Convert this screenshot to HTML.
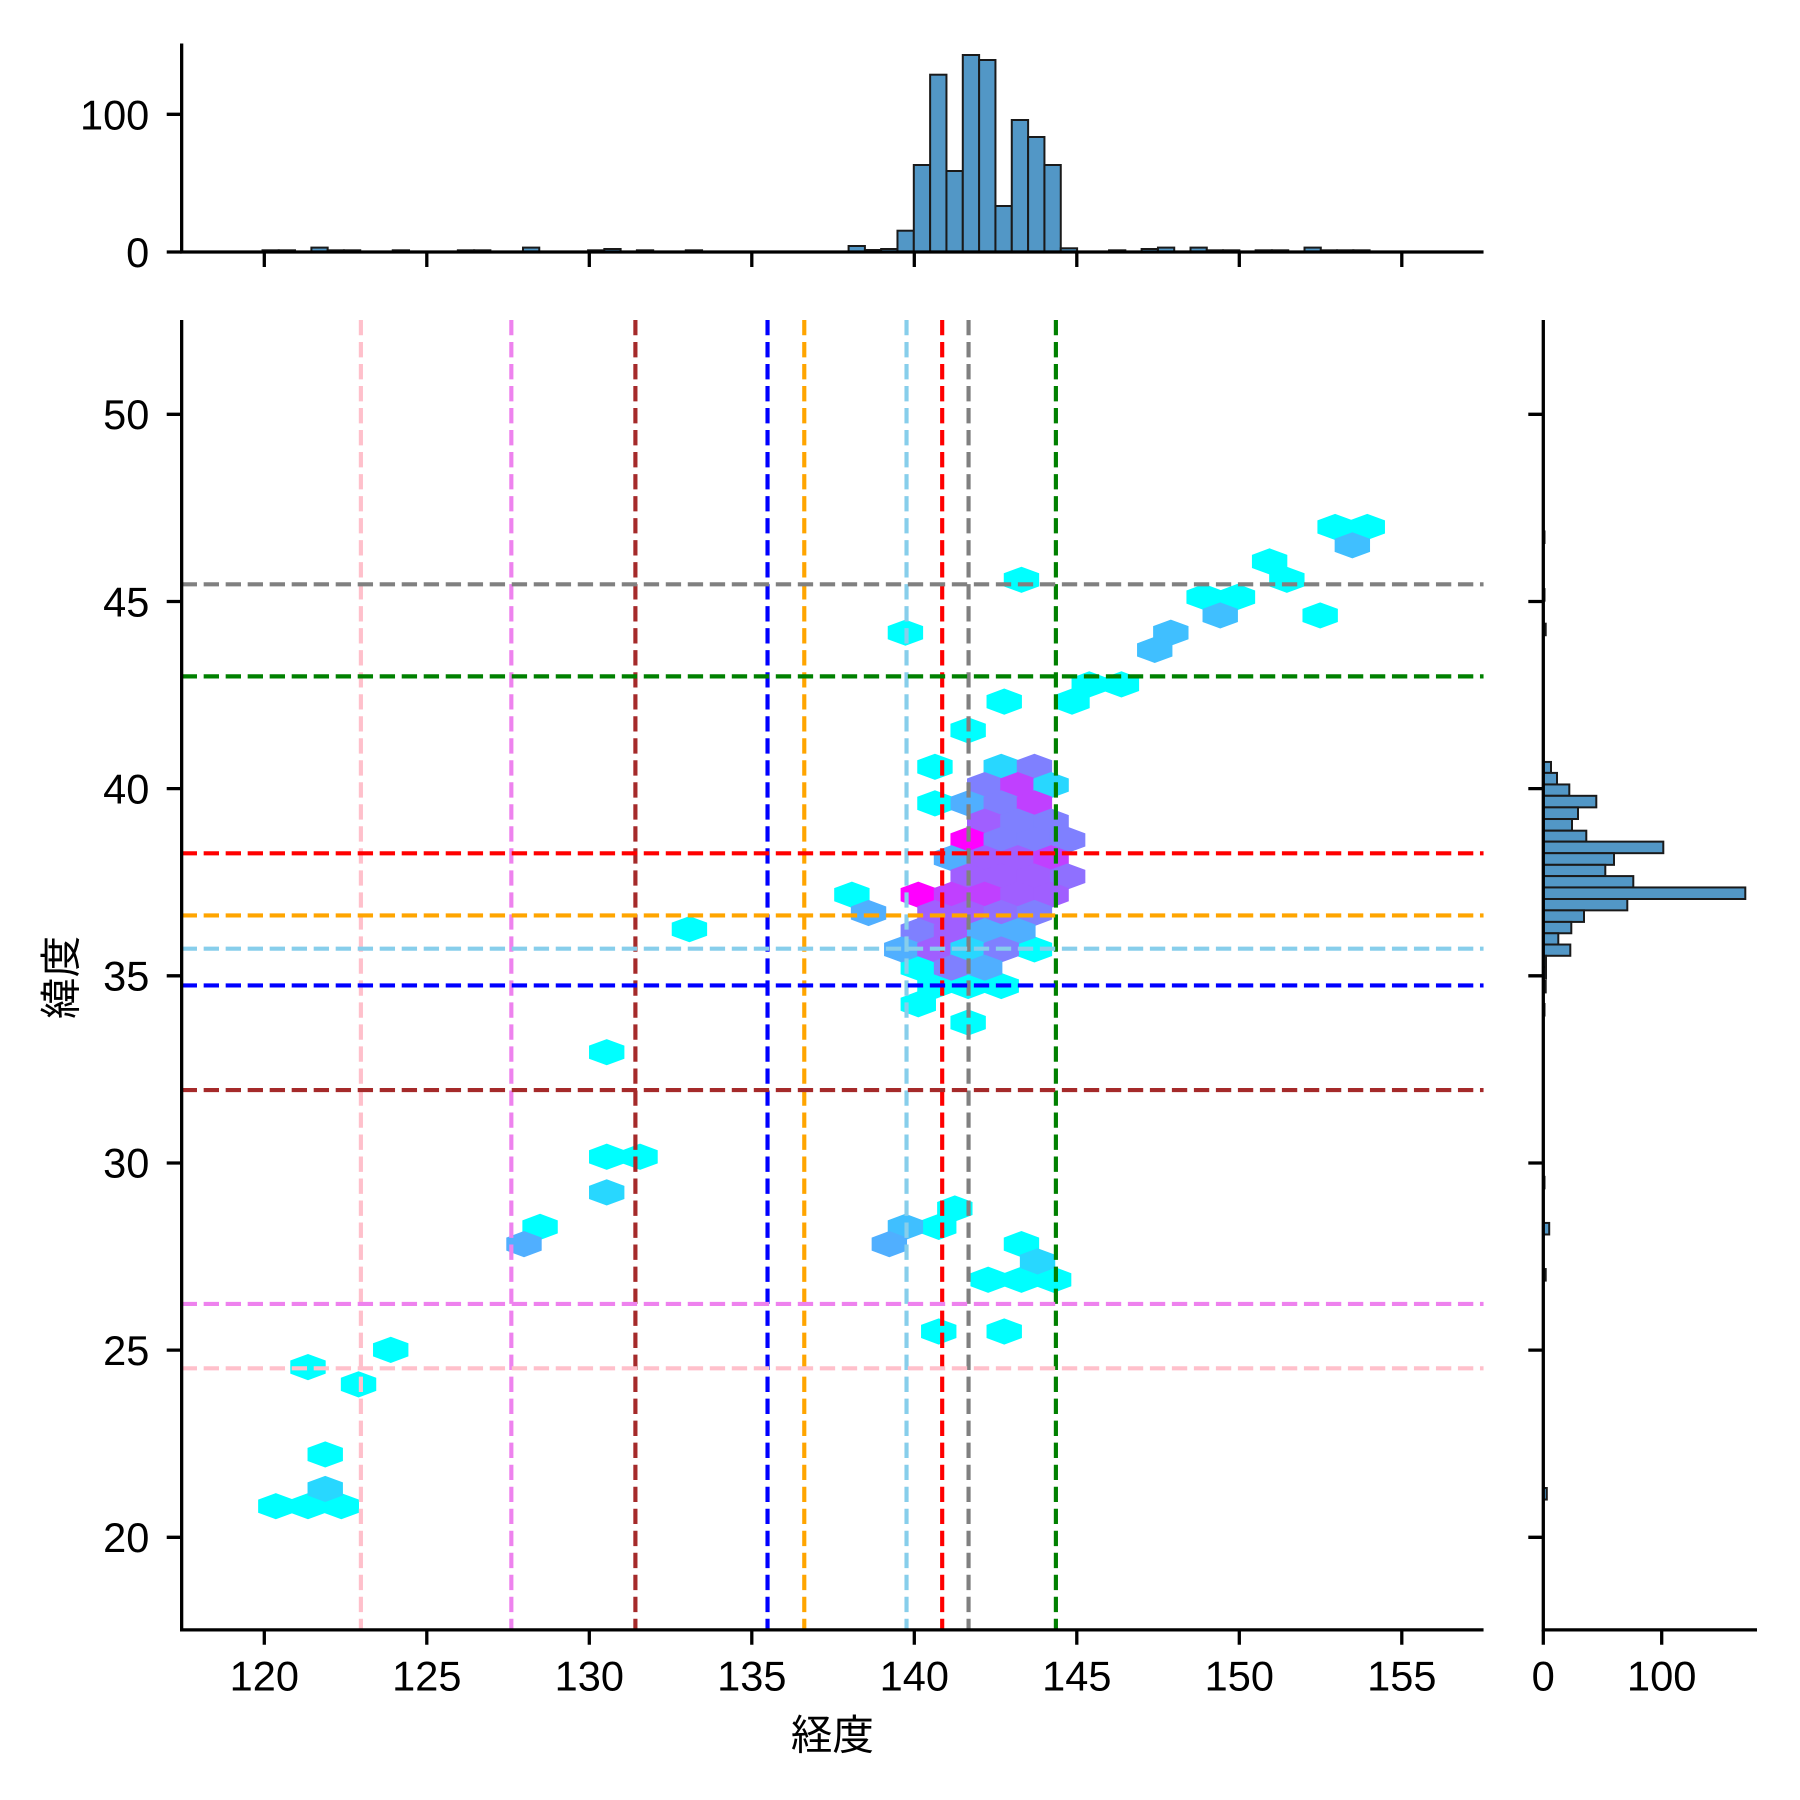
<!DOCTYPE html>
<html><head><meta charset="utf-8"><style>html,body{margin:0;padding:0;background:#fff}svg{display:block}text{font-family:"Liberation Sans","Noto Sans CJK JP",sans-serif;font-size:41.7px;fill:#000}</style></head>
<body>
<svg width="1800" height="1800" viewBox="0 0 1800 1800" xmlns="http://www.w3.org/2000/svg">
<defs><polygon id="h" points="0,-11.4 15.4,-5.7 15.4,5.7 0,11.4 -15.4,5.7 -15.4,-5.7"/></defs>
<rect width="1800" height="1800" fill="#fff"/>
<g transform="matrix(0.99571,0,0,0.9961,-1.057,-1.77)">
<g transform="scale(1.153846)">
<g fill="#00ffff">
<use href="#h" x="1163" y="460"/><use href="#h" x="1191" y="460"/><use href="#h" x="1106" y="490"/><use href="#h" x="1121" y="506"/><use href="#h" x="890" y="506"/><use href="#h" x="1049" y="521"/><use href="#h" x="1078" y="521"/><use href="#h" x="1150" y="537"/><use href="#h" x="789" y="552"/><use href="#h" x="949" y="597"/><use href="#h" x="977" y="597"/><use href="#h" x="934" y="612"/><use href="#h" x="875" y="612"/><use href="#h" x="601" y="810"/><use href="#h" x="529" y="917"/><use href="#h" x="529" y="1008"/><use href="#h" x="558" y="1008"/><use href="#h" x="471" y="1069"/><use href="#h" x="818" y="1069"/><use href="#h" x="832" y="1053"/><use href="#h" x="890" y="1084"/><use href="#h" x="861" y="1115"/><use href="#h" x="890" y="1115"/><use href="#h" x="918" y="1115"/><use href="#h" x="818" y="1160"/><use href="#h" x="875" y="1160"/><use href="#h" x="341" y="1176"/><use href="#h" x="269" y="1191"/><use href="#h" x="313" y="1206"/><use href="#h" x="284" y="1267"/><use href="#h" x="241" y="1312"/><use href="#h" x="269" y="1312"/><use href="#h" x="298" y="1312"/>
<use href="#h" x="843.6" y="637"/><use href="#h" x="814.7" y="668.7"/><use href="#h" x="814.7" y="700.5"/><use href="#h" x="742.4" y="780"/><use href="#h" x="901.3" y="827.6"/><use href="#h" x="800.2" y="843.5"/><use href="#h" x="814.7" y="859.4"/><use href="#h" x="843.6" y="859.4"/><use href="#h" x="872.4" y="859.4"/><use href="#h" x="800.2" y="875.3"/><use href="#h" x="843.6" y="891.2"/>
</g>
<use href="#h" x="1178" y="476" fill="#40bfff"/><use href="#h" x="1063" y="537" fill="#40bfff"/><use href="#h" x="1020" y="552" fill="#40bfff"/><use href="#h" x="1006" y="567" fill="#40bfff"/><use href="#h" x="529" y="1039" fill="#28d7ff"/><use href="#h" x="457" y="1084" fill="#50afff"/><use href="#h" x="789" y="1069" fill="#40bfff"/><use href="#h" x="775" y="1084" fill="#50afff"/><use href="#h" x="904" y="1099" fill="#28d7ff"/><use href="#h" x="284" y="1297" fill="#28d7ff"/>
<use href="#h" x="872.4" y="668.7" fill="#28d7ff"/><use href="#h" x="901.3" y="668.7" fill="#7f80ff"/>
<use href="#h" x="858" y="684.6" fill="#7f80ff"/><use href="#h" x="886.9" y="684.6" fill="#c040ff"/><use href="#h" x="915.8" y="684.6" fill="#28d7ff"/>
<use href="#h" x="843.6" y="700.5" fill="#50afff"/><use href="#h" x="872.4" y="700.5" fill="#7f80ff"/><use href="#h" x="901.3" y="700.5" fill="#c040ff"/>
<use href="#h" x="858" y="716.4" fill="#a05fff"/><use href="#h" x="886.9" y="716.4" fill="#7f80ff"/><use href="#h" x="915.8" y="716.4" fill="#7f80ff"/>
<use href="#h" x="843.6" y="732.3" fill="#ff00ff"/><use href="#h" x="872.4" y="732.3" fill="#7f80ff"/><use href="#h" x="901.3" y="732.3" fill="#7f80ff"/><use href="#h" x="930.2" y="732.3" fill="#7f80ff"/>
<use href="#h" x="829.1" y="748.2" fill="#50afff"/><use href="#h" x="858" y="748.2" fill="#a05fff"/><use href="#h" x="886.9" y="748.2" fill="#a05fff"/><use href="#h" x="915.8" y="748.2" fill="#c040ff"/>
<use href="#h" x="843.6" y="764.1" fill="#a05fff"/><use href="#h" x="872.4" y="764.1" fill="#a05fff"/><use href="#h" x="901.3" y="764.1" fill="#a05fff"/><use href="#h" x="930.2" y="764.1" fill="#8f70ff"/>
<use href="#h" x="800.2" y="780" fill="#ff00ff"/><use href="#h" x="829.1" y="780" fill="#c040ff"/><use href="#h" x="858" y="780" fill="#c040ff"/><use href="#h" x="886.9" y="780" fill="#a05fff"/><use href="#h" x="915.8" y="780" fill="#a05fff"/>
<use href="#h" x="756.9" y="795.9" fill="#50afff"/><use href="#h" x="814.7" y="795.9" fill="#a05fff"/><use href="#h" x="843.6" y="795.9" fill="#a05fff"/><use href="#h" x="872.4" y="795.9" fill="#8f70ff"/><use href="#h" x="901.3" y="795.9" fill="#7f80ff"/>
<use href="#h" x="800.2" y="811.7" fill="#7f80ff"/><use href="#h" x="829.1" y="811.7" fill="#a05fff"/><use href="#h" x="858" y="811.7" fill="#50afff"/><use href="#h" x="886.9" y="811.7" fill="#50afff"/>
<use href="#h" x="785.8" y="827.6" fill="#50afff"/><use href="#h" x="814.7" y="827.6" fill="#a05fff"/><use href="#h" x="843.6" y="827.6" fill="#28d7ff"/><use href="#h" x="872.4" y="827.6" fill="#7f80ff"/>
<use href="#h" x="829.1" y="843.5" fill="#7f80ff"/><use href="#h" x="858" y="843.5" fill="#50afff"/>
</g>
<g stroke-width="4.17" stroke-dasharray="15.4 6.7" fill="none">
<line x1="363.5" y1="323" x2="363.5" y2="1638" stroke="#ffc0cb"/>
<line x1="514.6" y1="323" x2="514.6" y2="1638" stroke="#ee82ee"/>
<line x1="639.2" y1="323" x2="639.2" y2="1638" stroke="#a52a2a"/>
<line x1="771.9" y1="323" x2="771.9" y2="1638" stroke="#0000ff"/>
<line x1="808.8" y1="323" x2="808.8" y2="1638" stroke="#ffa500"/>
<line x1="911.5" y1="323" x2="911.5" y2="1638" stroke="#87ceeb"/>
<line x1="947.3" y1="323" x2="947.3" y2="1638" stroke="#ff0000"/>
<line x1="973.8" y1="323" x2="973.8" y2="1638" stroke="#808080"/>
<line x1="1061.5" y1="323" x2="1061.5" y2="1638" stroke="#008000"/>
<line x1="183.5" y1="588.4" x2="1491" y2="588.4" stroke="#808080"/>
<line x1="183.5" y1="680.8" x2="1491" y2="680.8" stroke="#008000"/>
<line x1="183.5" y1="858.4" x2="1491" y2="858.4" stroke="#ff0000"/>
<line x1="183.5" y1="920.8" x2="1491" y2="920.8" stroke="#ffa500"/>
<line x1="183.5" y1="954.2" x2="1491" y2="954.2" stroke="#87ceeb"/>
<line x1="183.5" y1="991.1" x2="1491" y2="991.1" stroke="#0000ff"/>
<line x1="183.5" y1="1096.1" x2="1491" y2="1096.1" stroke="#a52a2a"/>
<line x1="183.5" y1="1310.8" x2="1491" y2="1310.8" stroke="#ee82ee"/>
<line x1="183.5" y1="1375.4" x2="1491" y2="1375.4" stroke="#ffc0cb"/>
</g>
<g stroke="#000" stroke-width="3.3" fill="none">
<polyline points="183.5,323 183.5,1638 1491,1638"/>
<path d="M266.5,1638v15M429.7,1638v15M592.9,1638v15M756.1,1638v15M919.3,1638v15M1082.5,1638v15M1245.7,1638v15M1408.9,1638v15"/>
<path d="M183.5,417.7h-15M183.5,605.6h-15M183.5,793.5h-15M183.5,981.4h-15M183.5,1169.3h-15M183.5,1357.2h-15M183.5,1545.1h-15"/>
</g>
<g text-anchor="middle">
<text x="266.5" y="1699">120</text><text x="429.7" y="1699">125</text><text x="592.9" y="1699">130</text><text x="756.1" y="1699">135</text><text x="919.3" y="1699">140</text><text x="1082.5" y="1699">145</text><text x="1245.7" y="1699">150</text><text x="1408.9" y="1699">155</text>
<text x="837" y="1758">経度</text>
</g>
<g text-anchor="end">
<text x="151" y="432.5">50</text><text x="151" y="620.5">45</text><text x="151" y="808.5">40</text><text x="151" y="996">35</text><text x="151" y="1184">30</text><text x="151" y="1372">25</text><text x="151" y="1560">20</text>
</g>
<text x="0" y="0" text-anchor="middle" transform="translate(77,983) rotate(-90)">緯度</text>
</g>
<g transform="matrix(0.99571,0,0,1,-1.057,0)">
<g fill="#5297c6" stroke="#1a1a1a" stroke-width="2">
<rect x="853.3" y="246" width="16.4" height="5.7"/><rect x="869.7" y="250" width="16.4" height="1.7"/><rect x="886" y="249" width="16.4" height="2.7"/><rect x="902.4" y="230.7" width="16.4" height="21"/><rect x="918.8" y="165" width="16.4" height="86.7"/><rect x="935.2" y="74.7" width="16.4" height="177"/><rect x="951.6" y="171" width="16.4" height="80.7"/><rect x="968" y="55" width="16.4" height="196.7"/><rect x="984.4" y="60" width="16.4" height="191.7"/><rect x="1000.8" y="206" width="16.4" height="45.7"/><rect x="1017.2" y="120" width="16.4" height="131.7"/><rect x="1033.6" y="137" width="16.4" height="114.7"/><rect x="1050" y="165" width="16.4" height="86.7"/><rect x="1066.4" y="248.3" width="16.4" height="3.4"/>
<rect x="264.7" y="250.3" width="16.35" height="1.4"/><rect x="281" y="250.3" width="16.35" height="1.4"/><rect x="313.8" y="247.6" width="16.35" height="4.1"/><rect x="330.1" y="250.3" width="16.35" height="1.4"/><rect x="346.5" y="250.3" width="16.35" height="1.4"/><rect x="395.5" y="250.3" width="16.35" height="1.4"/><rect x="460.9" y="250.3" width="16.35" height="1.4"/><rect x="477.2" y="250.3" width="16.35" height="1.4"/><rect x="526.3" y="247.6" width="16.35" height="4.1"/><rect x="591.7" y="250.3" width="16.35" height="1.4"/><rect x="608" y="249" width="16.35" height="2.7"/><rect x="640.7" y="250.3" width="16.35" height="1.4"/><rect x="689.8" y="250.3" width="16.35" height="1.4"/>
<rect x="1114.9" y="250.3" width="16.35" height="1.4"/><rect x="1147.6" y="249" width="16.35" height="2.7"/><rect x="1164" y="247.6" width="16.35" height="4.1"/><rect x="1196.7" y="247.6" width="16.35" height="4.1"/><rect x="1213" y="250.3" width="16.35" height="1.4"/><rect x="1229.4" y="250.3" width="16.35" height="1.4"/><rect x="1262.1" y="250.3" width="16.35" height="1.4"/><rect x="1278.5" y="250.3" width="16.35" height="1.4"/><rect x="1311.2" y="247.6" width="16.35" height="4.1"/><rect x="1327.5" y="250.3" width="16.35" height="1.4"/><rect x="1343.9" y="250.3" width="16.35" height="1.4"/><rect x="1360.2" y="250.3" width="16.35" height="1.4"/>
</g>
<g stroke="#000" stroke-width="3.3" fill="none">
<polyline points="183.5,43.5 183.5,252 1491,252"/>
<path d="M266.5,252v15M429.7,252v15M592.9,252v15M756.1,252v15M919.3,252v15M1082.5,252v15M1245.7,252v15M1408.9,252v15"/>
<path d="M183.5,252h-15M183.5,114.3h-15"/>
</g>
<g text-anchor="end"><text x="151" y="267">0</text><text x="151" y="129.5">100</text></g>
</g>
<g transform="matrix(1,0,0,0.9961,0,-1.77)">
<g fill="#5297c6" stroke="#1a1a1a" stroke-width="2">
<rect x="1543.3" y="766.7" width="7.7" height="11"/><rect x="1543.3" y="777.7" width="13.7" height="11.6"/><rect x="1543.3" y="789.3" width="26" height="11.4"/><rect x="1543.3" y="800.7" width="53" height="11.6"/><rect x="1543.3" y="812.3" width="34.7" height="11.7"/><rect x="1543.3" y="824" width="28.7" height="11.7"/><rect x="1543.3" y="835.7" width="43" height="11"/><rect x="1543.3" y="846.7" width="120" height="11.6"/><rect x="1543.3" y="858.3" width="70.7" height="11.7"/><rect x="1543.3" y="870" width="62" height="11.3"/><rect x="1543.3" y="881.3" width="90" height="11.4"/><rect x="1543.3" y="892.7" width="202" height="11.6"/><rect x="1543.3" y="904.3" width="84" height="11.4"/><rect x="1543.3" y="915.7" width="40.7" height="11.6"/><rect x="1543.3" y="927.3" width="28" height="11.4"/><rect x="1543.3" y="938.7" width="15" height="11.3"/><rect x="1543.3" y="950" width="27" height="11.3"/><rect x="1543.3" y="961.3" width="2.7" height="11.4"/><rect x="1543.3" y="972.7" width="2.7" height="11.6"/>
<rect x="1543.3" y="535.3" width="1.2" height="11.6"/><rect x="1543.3" y="593.2" width="1.2" height="11.6"/><rect x="1543.3" y="627.9" width="2.4" height="11.6"/><rect x="1543.3" y="986.5" width="2.4" height="11.6"/><rect x="1543.3" y="1009.7" width="1.2" height="11.6"/><rect x="1543.3" y="1183.2" width="1.2" height="11.6"/><rect x="1543.3" y="1229.5" width="5.9" height="11.6"/><rect x="1543.3" y="1275.8" width="2.4" height="11.6"/><rect x="1543.3" y="1495.6" width="3.5" height="11.6"/>
</g>
<g stroke="#000" stroke-width="3.3" fill="none">
<polyline points="1543.3,323 1543.3,1638 1757,1638"/>
<path d="M1543.3,1638v15M1661.7,1638v15"/>
<path d="M1543.3,417.7h-15M1543.3,605.6h-15M1543.3,793.5h-15M1543.3,981.4h-15M1543.3,1169.3h-15M1543.3,1357.2h-15M1543.3,1545.1h-15"/>
</g>
<g text-anchor="middle"><text x="1543.3" y="1699">0</text><text x="1661.7" y="1699">100</text></g>
</g>
</svg>
</body></html>
